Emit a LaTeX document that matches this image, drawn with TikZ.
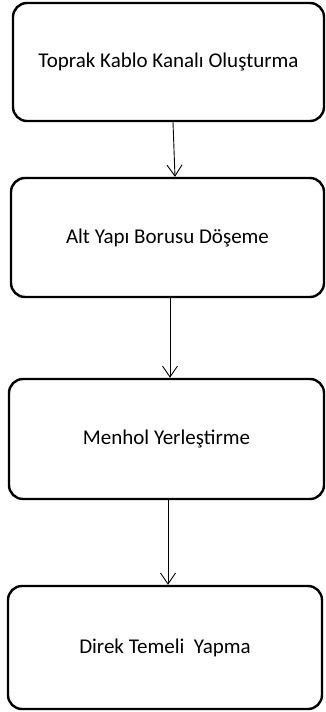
\documentclass[tikz,border=0pt]{standalone}
\usepackage{fontspec}
\setmainfont{Carlito}
\usetikzlibrary{arrows.meta,calc}
\begin{document}
\begin{tikzpicture}[x=1pt,y=-1pt,
  stepbox/.style={draw, line width=2.4pt, rounded corners=14pt, inner sep=0pt,
    font=\fontsize{21}{25}\selectfont},
  conn/.style={line width=0.9pt, -{Straight Barb[length=11pt,width=15pt,line width=0.9pt]}}]
\useasboundingbox (0,0) rectangle (326,712);
\node[stepbox, minimum width=311pt, minimum height=118pt] (b1) at (168.5,62) {Toprak Kablo Kanalı Oluşturma};
\node[stepbox, minimum width=313pt, minimum height=119pt] (b2) at (167.5,237.5) {Alt Yapı Borusu Döşeme};
\node[stepbox, minimum width=315pt, minimum height=120pt] (b3) at (166.5,439) {Menhol Yerleştirme};
\node[stepbox, minimum width=314pt, minimum height=123pt] (b4) at (165,647.5) {Direk Temeli\ \ Yapma};
\draw[conn] ($(b1.south)+(4.5,0)$) -- ($(b2.north)+(7.5,0)$);
\draw[conn] ($(b2.south)+(2.5,0)$) -- ($(b3.north)+(3.5,0)$);
\draw[conn] ($(b3.south)+(1.5,0)$) -- ($(b4.north)+(3,0)$);
\end{tikzpicture}
\end{document}
